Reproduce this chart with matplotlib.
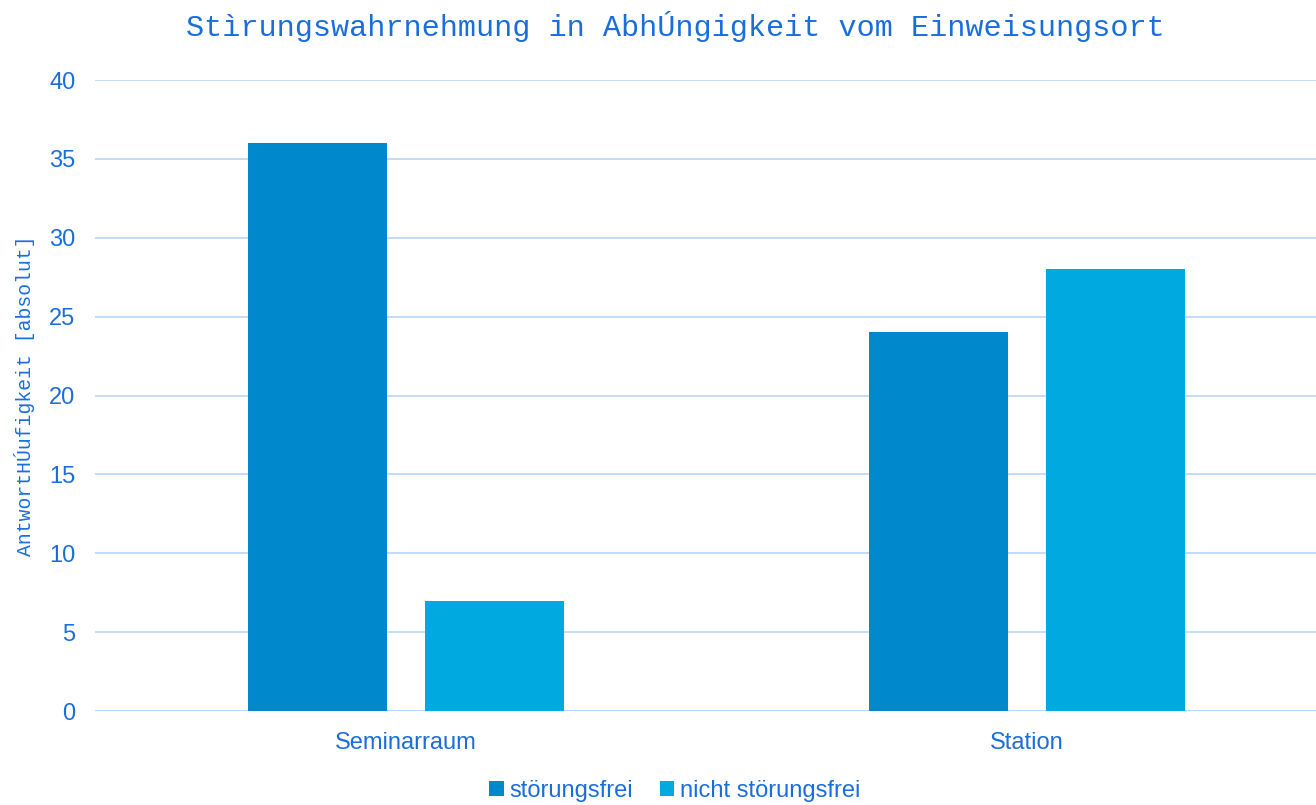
import matplotlib
matplotlib.use('Agg')
import matplotlib.pyplot as plt
import numpy as np

# ── 데이터 ────────────────────────────────────────────
categories = ['Seminarraum', 'Station']
stoerungsfrei = [36, 24]
nicht_stoerungsfrei = [7, 28]
series_names = ['störungsfrei', 'nicht störungsfrei']
yticks = [0, 5, 10, 15, 20, 25, 30, 35, 40]

title = 'Stìrungswahrnehmung in AbhÚngigkeit vom Einweisungsort'
ylabel = 'AntwortHÚufigkeit [absolut]'

c_dark = '#0088CC'
c_light = '#00AAE0'
c_text = '#1A6EDC'
c_grid = '#B8D5F8'

fig = plt.figure(figsize=(13.16, 8.05), dpi=100)
ax = fig.add_axes([95 / 1316, 1 - 711 / 805, 1 - 95 / 1316, (711 - 80) / 805])

x = np.arange(len(categories))
w = 0.224
off = 0.1425
ax.bar(x - off, stoerungsfrei, w, color=c_dark, label=series_names[0], zorder=3)
ax.bar(x + off, nicht_stoerungsfrei, w, color=c_light, label=series_names[1], zorder=3)

ax.set_xlim(-0.5, 1.465)
ax.set_ylim(0, 40)
ax.set_yticks(yticks)
ax.set_xticks(x)
ax.set_xticklabels(categories)
ax.yaxis.grid(True, color=c_grid, lw=1.2, zorder=0)
ax.tick_params(length=0, labelsize=17, labelcolor=c_text)
for lab in ax.get_xticklabels() + ax.get_yticklabels():
    lab.set_fontfamily('Liberation Sans')
ax.tick_params(axis='y', pad=14)
ax.tick_params(axis='x', pad=15)
for s in ax.spines.values():
    s.set_visible(False)
ax.axhline(0, color=c_grid, lw=1.2, zorder=2)

ax.set_ylabel(ylabel, family='Liberation Mono', fontsize=14.2, color=c_text, labelpad=10)
fig.text(0.513, 1 - 27 / 805, title, family='Liberation Mono', fontsize=21.8,
         color=c_text, ha='center', va='center')

leg = fig.legend(loc='center', bbox_to_anchor=(0.513, 1 - 791 / 805), ncol=2,
                 frameon=False, handlelength=0.6, handleheight=0.6,
                 handletextpad=0.25, columnspacing=1.15,
                 prop={'family': 'Liberation Sans', 'size': 17})
for t in leg.get_texts():
    t.set_color(c_text)

fig.savefig('out.png', dpi=100)
